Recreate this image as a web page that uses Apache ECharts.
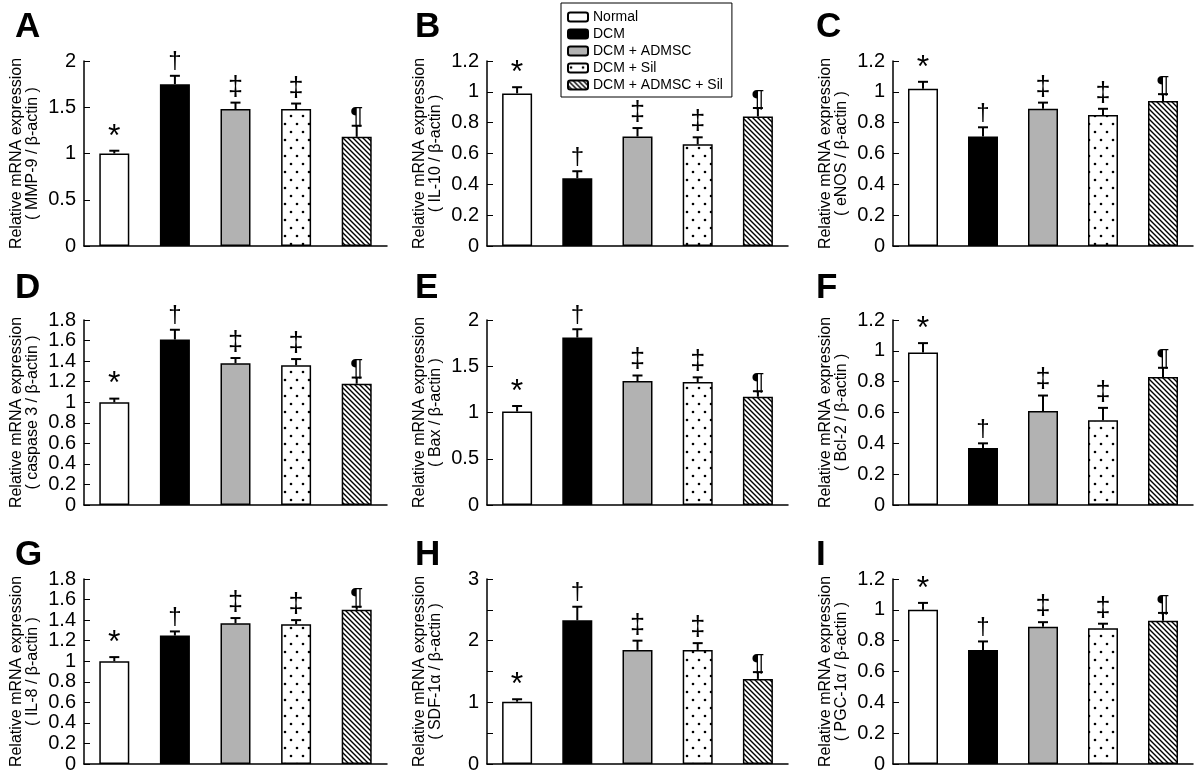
<!DOCTYPE html>
<html>
<head>
<meta charset="utf-8">
<script src="https://cdn.jsdelivr.net/npm/echarts@6/dist/echarts.min.js"></script>
<style>
html, body { margin: 0; background: #fff; }
#main { width: 1200px; height: 777px; }
</style>
</head>
<body>
<div id="main"></div>
<script>
// groups and significance marks
var groups = ['Normal', 'DCM', 'DCM + ADMSC', 'DCM + Sil', 'DCM + ADMSC + Sil'];
var marks = ['*', '†', '‡', '‡', '¶'];

// mean values and upper error (SEM) per gene
var mmp9 = [1.00, 1.75, 1.48, 1.48, 1.18];
var mmp9Err = [0.03, 0.09, 0.07, 0.06, 0.12];
var il10 = [0.99, 0.44, 0.71, 0.66, 0.84];
var il10Err = [0.04, 0.045, 0.055, 0.045, 0.055];
var enos = [1.02, 0.71, 0.89, 0.85, 0.94];
var enosErr = [0.045, 0.06, 0.04, 0.04, 0.045];
var casp3 = [1.00, 1.61, 1.38, 1.36, 1.18];
var casp3Err = [0.035, 0.095, 0.05, 0.06, 0.06];
var bax = [1.01, 1.81, 1.34, 1.33, 1.17];
var baxErr = [0.06, 0.09, 0.06, 0.05, 0.06];
var bcl2 = [0.99, 0.37, 0.61, 0.55, 0.83];
var bcl2Err = [0.06, 0.03, 0.10, 0.08, 0.06];
var il8 = [1.00, 1.25, 1.37, 1.36, 1.50];
var il8Err = [0.04, 0.04, 0.05, 0.04, 0.03];
var sdf1 = [1.01, 2.33, 1.85, 1.85, 1.38];
var sdf1Err = [0.04, 0.22, 0.15, 0.11, 0.11];
var pgc1 = [1.00, 0.74, 0.89, 0.88, 0.93];
var pgc1Err = [0.045, 0.055, 0.03, 0.03, 0.05];

var FONT = 'Liberation Sans, Arial, sans-serif';

function dotPattern() {
    var c = document.createElement('canvas');
    c.width = 12; c.height = 16;
    var ctx = c.getContext('2d');
    ctx.fillStyle = '#fff';
    ctx.fillRect(0, 0, 12, 16);
    ctx.fillStyle = '#000';
    [[3, 4], [9, 12]].forEach(function (p) {
        ctx.beginPath();
        ctx.arc(p[0], p[1], 1.3, 0, Math.PI * 2);
        ctx.fill();
    });
    return c;
}

function hatchPattern() {
    var s = 5;
    var c = document.createElement('canvas');
    c.width = s; c.height = s;
    var ctx = c.getContext('2d');
    ctx.fillStyle = '#fff';
    ctx.fillRect(0, 0, s, s);
    ctx.strokeStyle = '#000';
    ctx.lineWidth = 1.4;
    ctx.beginPath();
    ctx.moveTo(-1, -1); ctx.lineTo(s + 1, s + 1);
    ctx.moveTo(-1, s - 1); ctx.lineTo(1, s + 1);
    ctx.moveTo(s - 1, -1); ctx.lineTo(s + 1, 1);
    ctx.stroke();
    return c;
}

var fills = [
    '#ffffff',
    '#000000',
    '#b2b2b2',
    { image: dotPattern(), repeat: 'repeat' },
    { image: hatchPattern(), repeat: 'repeat' }
];

var panels = [
    { letter: 'A', v: mmp9, e: mmp9Err, gene: 'MMP-9', max: 2, step: 0.5 },
    { letter: 'B', v: il10, e: il10Err, gene: 'IL-10', max: 1.2, step: 0.2 },
    { letter: 'C', v: enos, e: enosErr, gene: 'eNOS', max: 1.2, step: 0.2 },
    { letter: 'D', v: casp3, e: casp3Err, gene: 'caspase 3', max: 1.8, step: 0.2 },
    { letter: 'E', v: bax, e: baxErr, gene: 'Bax', max: 2, step: 0.5 },
    { letter: 'F', v: bcl2, e: bcl2Err, gene: 'Bcl-2', max: 1.2, step: 0.2 },
    { letter: 'G', v: il8, e: il8Err, gene: 'IL-8', max: 1.8, step: 0.2 },
    { letter: 'H', v: sdf1, e: sdf1Err, gene: 'SDF-1α', max: 3, step: 0.5, intOnly: true },
    { letter: 'I', v: pgc1, e: pgc1Err, gene: 'PGC-1α', max: 1.2, step: 0.2 }
];

var colLeft = [84, 487, 893];
var colWidth = [303, 301, 300];
var rowTop = [61, 320, 579];
var letterX = [15, 415, 816];
var letterY = [10, 271, 538];

var grids = [], xAxes = [], yAxes = [], series = [], texts = [];

var markOffset = { '*': 2, '†': -2, '‡': -2, '¶': 4 };
var markSize = { '*': 32, '†': 24, '‡': 27, '¶': 24 };

panels.forEach(function (p, k) {
    var col = k % 3, row = Math.floor(k / 3);
    grids.push({ left: colLeft[col], top: rowTop[row], width: colWidth[col], height: 185 });

    xAxes.push({
        type: 'category', gridIndex: k, data: groups,
        axisLine: { lineStyle: { color: '#000', width: 1.5 } },
        axisTick: { inside: true, length: 5, lineStyle: { color: '#000' } },
        axisLabel: { show: false }
    });

    yAxes.push({
        type: 'value', gridIndex: k, min: 0, max: p.max, interval: p.step,
        splitLine: { show: false },
        axisLine: { show: true, lineStyle: { color: '#000', width: 1.5 } },
        axisTick: { show: true, inside: true, length: 6, lineStyle: { color: '#000' } },
        axisLabel: {
            color: '#000', fontSize: 20, fontFamily: FONT, margin: 8,
            formatter: function (val) {
                if (p.intOnly && Math.abs(val - Math.round(val)) > 1e-6) return '';
                return String(Math.round(val * 10) / 10);
            }
        },
        name: 'Relative mRNA expression\n( ' + p.gene + ' / β-actin )',
        nameLocation: 'middle', nameRotate: 90, nameGap: 43,
        nameTextStyle: { color: '#000', fontSize: 16, lineHeight: 16, fontFamily: FONT, align: 'center' }
    });

    groups.forEach(function (g, gi) {
        series.push({
            name: g, type: 'bar', xAxisIndex: k, yAxisIndex: k,
            barWidth: 30, barGap: '-100%',
            data: p.v.map(function (val, i) { return i === gi ? val : '-'; }),
            itemStyle: { color: fills[gi], borderColor: '#000', borderWidth: 1.5 },
            emphasis: { disabled: true },
            z: 2
        });
    });

    series.push({
        type: 'custom', xAxisIndex: k, yAxisIndex: k, z: 3,
        data: p.v.map(function (val, i) { return [i, val, val + p.e[i]]; }),
        renderItem: function (params, api) {
            var i = api.value(0);
            var base = api.coord([i, api.value(1)]);
            var top = api.coord([i, api.value(2)]);
            var m = marks[i];
            return {
                type: 'group',
                children: [
                    { type: 'line', shape: { x1: base[0], y1: base[1], x2: top[0], y2: top[1] },
                      style: { stroke: '#000', lineWidth: 2 } },
                    { type: 'line', shape: { x1: top[0] - 5, y1: top[1], x2: top[0] + 5, y2: top[1] },
                      style: { stroke: '#000', lineWidth: 2 } },
                    { type: 'text', x: top[0], y: top[1] + markOffset[m],
                      style: { text: m, fill: '#000', align: 'center', verticalAlign: 'bottom',
                               font: markSize[m] + 'px ' + FONT } }
                ]
            };
        }
    });

    texts.push({
        type: 'text', left: letterX[col], top: letterY[row],
        style: { text: p.letter, fill: '#000', font: 'bold 35px ' + FONT }
    });
});

var chart = echarts.init(document.getElementById('main'));

chart.setOption({
    backgroundColor: '#fff',
    animation: false,
    grid: grids,
    xAxis: xAxes,
    yAxis: yAxes,
    legend: {
        data: groups, orient: 'vertical', left: 561, top: 3,
        selectedMode: false,
        backgroundColor: '#fff',
        borderColor: '#000', borderWidth: 1,
        padding: [7, 9, 5, 6],
        itemWidth: 20, itemHeight: 9, itemGap: 3,
        textStyle: { color: '#000', fontSize: 14, fontFamily: FONT }
    },
    graphic: texts,
    series: series
});
</script>
</body>
</html>
